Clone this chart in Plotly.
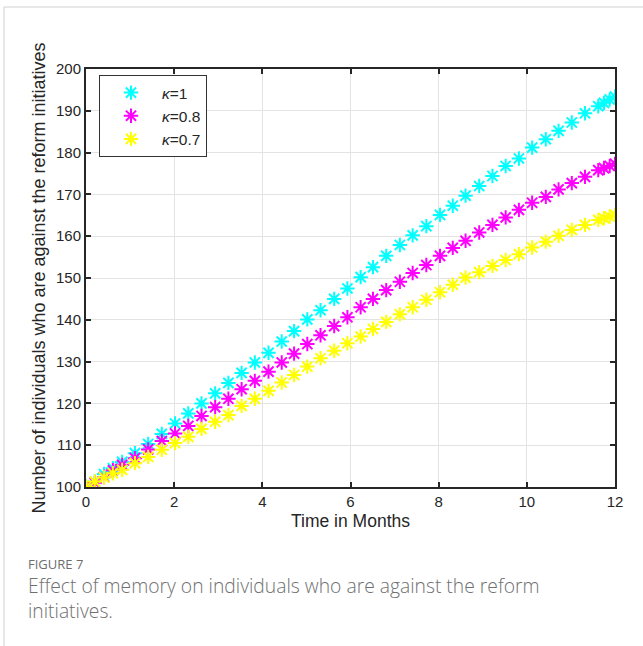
import plotly.graph_objects as go

# Time points (months)
time_months = [0, 0.2, 0.41, 0.61, 0.82, 1.11, 1.41, 1.72, 2.02, 2.32, 2.62, 2.93,
               3.23, 3.53, 3.83, 4.14, 4.44, 4.72, 5.02, 5.32, 5.63, 5.93, 6.23,
               6.51, 6.81, 7.12, 7.41, 7.72, 8.03, 8.32, 8.61, 8.92, 9.22, 9.52,
               9.82, 10.12, 10.43, 10.72, 11.02, 11.32, 11.62, 11.75, 11.88, 12.0]

kappa_1 = [100, 101.3, 103.1, 104.5, 106.0, 108.1, 110.3, 112.7, 115.2, 117.6, 120.0,
           122.4, 124.9, 127.3, 129.8, 132.1, 134.8, 137.3, 140.1, 142.3, 145.0,
           147.5, 150.2, 152.6, 155.3, 157.9, 160.2, 162.4, 165.1, 167.3, 169.7,
           172.0, 174.4, 176.8, 178.6, 181.2, 183.2, 185.2, 187.2, 189.4, 191.1,
           191.9, 192.7, 193.4]

kappa_08 = [100, 101.0, 102.4, 104.0, 105.3, 106.9, 109.0, 111.0, 112.8, 114.6, 117.0,
            119.1, 121.1, 123.4, 125.4, 127.6, 129.8, 131.9, 134.2, 136.3, 138.5,
            140.6, 143.0, 145.0, 147.1, 149.1, 151.2, 153.1, 155.3, 157.2, 158.9,
            160.9, 162.7, 164.5, 166.3, 168.0, 169.4, 171.2, 172.7, 174.2, 175.8,
            176.3, 176.8, 177.3]

kappa_07 = [100, 101.3, 102.3, 103.3, 104.1, 105.7, 107.2, 108.9, 110.5, 112.0, 113.9,
            115.6, 117.2, 119.4, 121.1, 123.0, 125.0, 126.8, 128.8, 130.8, 132.6,
            134.4, 136.0, 137.8, 139.5, 141.3, 143.0, 144.8, 146.6, 148.4, 150.1,
            151.4, 152.9, 154.3, 155.7, 157.3, 158.7, 160.1, 161.5, 162.7, 163.9,
            164.3, 164.7, 165.1]

series_names = ["<i>κ</i>=1", "<i>κ</i>=0.8", "<i>κ</i>=0.7"]
series_colors = ["#00FFFF", "#FF00FF", "#FFFF00"]
series_values = [kappa_1, kappa_08, kappa_07]

x_ticks = [0, 2, 4, 6, 8, 10, 12]
y_ticks = [100, 110, 120, 130, 140, 150, 160, 170, 180, 190, 200]

W, H = 643, 646
L, R, T, B = 86, 615, 69, 487  # plot area in pixels

fig = go.Figure()
for name, col, vals in zip(series_names, series_colors, series_values):
    fig.add_trace(go.Scatter(
        x=time_months, y=vals, mode="markers", name=name,
        marker=dict(symbol="asterisk-open", size=12, color=col,
                    line=dict(color=col, width=2)),
    ))

def px_x(p):
    return (p - L) / (R - L)

def px_y(p):
    return (B - p) / (B - T)

fam = "Liberation Sans, Arial, sans-serif"
axis_font = dict(family=fam, size=15, color="#262626")

fig.update_layout(
    width=W, height=H,
    margin=dict(l=L, r=W - R, t=T, b=H - B, pad=0),
    paper_bgcolor="white", plot_bgcolor="white",
    font=axis_font,
    showlegend=True,
    legend=dict(x=px_x(99), y=px_y(75), xanchor="left", yanchor="top",
                bgcolor="white", bordercolor="#333333", borderwidth=1,
                font=dict(family=fam, size=15.5, color="#262626"),
                itemwidth=52, tracegroupgap=0),
    xaxis=dict(range=[0, 12], tickvals=x_ticks, ticks="inside", ticklen=5,
               tickwidth=2, tickcolor="#262626", tickfont=dict(family=fam, size=15),
               showline=True, linecolor="#262626", linewidth=2, mirror="ticks",
               showgrid=True, gridcolor="#e3e3e3", gridwidth=1, zeroline=False,
               title=dict(text="Time in Months", font=dict(family=fam, size=17.5), standoff=6)),
    yaxis=dict(range=[100, 200], tickvals=y_ticks, ticks="inside", ticklen=5,
               tickwidth=2, tickcolor="#262626", tickfont=dict(family=fam, size=15),
               showline=True, linecolor="#262626", linewidth=2, mirror="ticks",
               showgrid=True, gridcolor="#e3e3e3", gridwidth=1, zeroline=False,
               title=dict(text="Number of individuals who are against the reform initiatives",
                          font=dict(family=fam, size=18), standoff=6)),
)

# outer frame (light gray left and top lines)
fig.add_shape(type="line", xref="paper", yref="paper",
              x0=px_x(4), x1=px_x(4), y0=px_y(7), y1=px_y(646),
              line=dict(color="#d0d0d0", width=1))
fig.add_shape(type="line", xref="paper", yref="paper",
              x0=px_x(4), x1=px_x(643), y0=px_y(7), y1=px_y(7),
              line=dict(color="#d0d0d0", width=1))

cap_font = "Open Sans, Noto Sans, sans-serif"
fig.add_annotation(xref="paper", yref="paper", x=px_x(27), y=px_y(564),
                   xanchor="left", yanchor="middle", showarrow=False, borderpad=0,
                   text="FIGURE 7", font=dict(family=cap_font, size=13, color="#6e6e6e"))
fig.add_annotation(xref="paper", yref="paper", x=px_x(27), y=px_y(597.5),
                   xanchor="left", yanchor="middle", showarrow=False, borderpad=0,
                   align="left",
                   text="Effect of memory on individuals who are against the reform<br>initiatives.",
                   font=dict(family=cap_font, size=19.3, color="#707070", weight=300))

fig.write_html("out.html", config={"displayModeBar": False},
               post_script="document.body.style.margin='0';")
